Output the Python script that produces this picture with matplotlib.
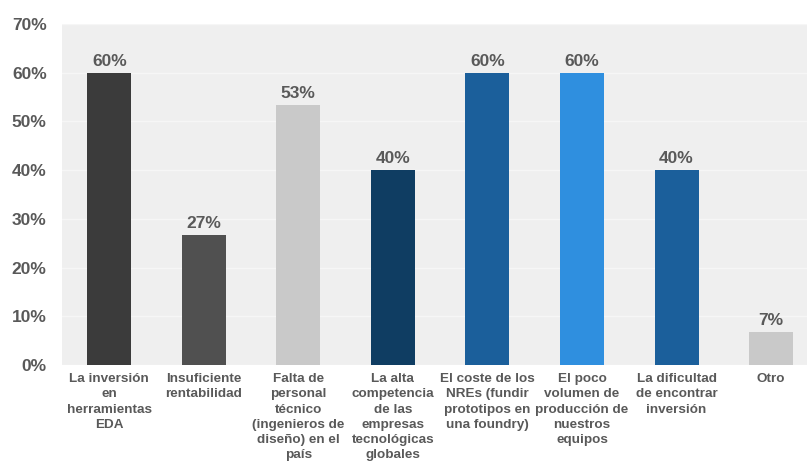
import matplotlib.pyplot as plt
from matplotlib.ticker import FuncFormatter

categories = [
    "La inversión\nen\nherramientas\nEDA",
    "Insuficiente\nrentabilidad",
    "Falta de\npersonal\ntécnico\n(ingenieros de\ndiseño) en el\npaís",
    "La alta\ncompetencia\nde las\nempresas\ntecnológicas\nglobales",
    "El coste de los\nNREs (fundir\nprototipos en\nuna foundry)",
    "El poco\nvolumen de\nproducción de\nnuestros\nequipos",
    "La dificultad\nde encontrar\ninversión",
    "Otro",
]
values = [60, 26.7, 53.3, 40, 60, 60, 40, 6.7]
colors = ["#3b3b3b", "#505050", "#c9c9c9", "#0f3d62", "#1b5f9b", "#2f8fdf", "#1b5f9b", "#c9c9c9"]

plt.rcParams["font.family"] = ["Liberation Sans", "DejaVu Sans"]
TXT = "#595959"

fig = plt.figure(figsize=(8.07, 4.61), dpi=100)
ax = fig.add_axes([62 / 807, 96 / 461, 745 / 807, 341 / 461])
ax.set_facecolor("#efefef")

x = range(len(categories))
bars = ax.bar(x, values, width=0.465, color=colors, zorder=3)
ax.bar_label(bars, labels=[f"{v:.0f}%" for v in values], padding=3,
             fontsize=12.5, fontweight="bold", color=TXT)

ax.set_ylim(0, 70)
# plot area runs past the right edge of the picture
ax.set_xlim(-0.5, 7.38)
ax.set_yticks(range(0, 71, 10))
ax.yaxis.set_major_formatter(FuncFormatter(lambda v, _: f"{v:.0f}%"))
ax.yaxis.grid(True, color="#f6f6f6", linewidth=1, zorder=0)
ax.set_xticks(list(x))
ax.set_xticklabels(categories, fontsize=9.7, fontweight="bold", color=TXT,
                   linespacing=1.35, va="top")
for lbl in ax.get_yticklabels():
    lbl.set_fontsize(12.5)
    lbl.set_fontweight("bold")
    lbl.set_color(TXT)
ax.tick_params(axis="both", length=0)
ax.tick_params(axis="y", pad=11)
ax.tick_params(axis="x", pad=6)
for side in ax.spines:
    ax.spines[side].set_visible(False)

fig.savefig("out.png", dpi=100)
